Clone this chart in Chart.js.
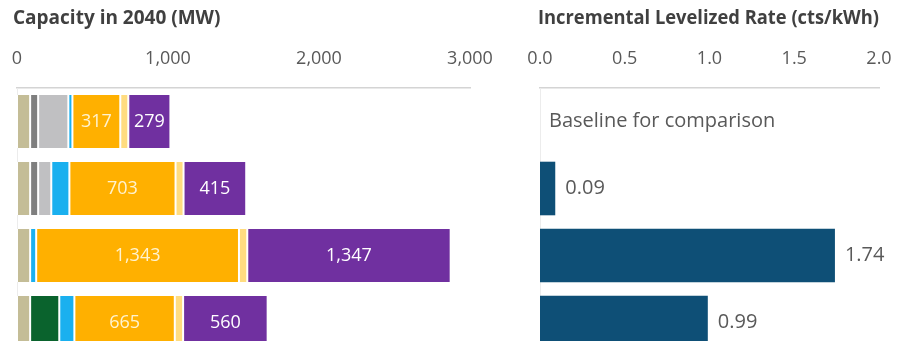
<!DOCTYPE html>
<html>
<head>
<meta charset="utf-8">
<script src="https://cdn.jsdelivr.net/npm/chart.js@4/dist/chart.umd.min.js"></script>
<style>
  body { margin: 0; background: #fff; overflow: hidden; }
  #capacityBox { position: absolute; left: 0; top: 0; width: 510px; height: 356px; }
  #rateBox { position: absolute; left: 510px; top: 0; width: 388px; height: 356px; }
</style>
</head>
<body>
<div id="capacityBox"><canvas id="capacityChart"></canvas></div>
<div id="rateBox"><canvas id="rateChart"></canvas></div>
<script>
// one row per portfolio, top to bottom
let portfolios = ['Baseline', 'Portfolio A', 'Portfolio B', 'Portfolio C'];

// capacity in 2040, MW, per resource
let existingMW = [87, 87, 87, 87];
let gasMW = [53, 53, 0, 0];
let otherMW = [200, 87, 0, 0];
let biomassMW = [0, 0, 0, 193];
let windMW = [27, 120, 40, 100];
let solarMW = [317, 703, 1343, 665];
let dgMW = [53, 53, 55, 55];
let storageMW = [279, 415, 1347, 560];

// incremental levelized rate, cts/kWh (baseline has none)
let rateValues = [null, 0.09, 1.74, 0.99];
let baselineNote = 'Baseline for comparison';

let capacityTicks = [0, 1000, 2000, 3000];
let rateTicks = [0, 0.5, 1.0, 1.5, 2.0];

Chart.defaults.font.family = '"Open Sans", sans-serif';
Chart.defaults.color = '#595959';

function stackPart(label, data, color, labelColor) {
  return {
    label: label,
    data: data,
    backgroundColor: color,
    borderColor: '#ffffff',
    borderWidth: {left: 1, right: 1, top: 0, bottom: 0},
    borderSkipped: false,
    valueLabel: labelColor
  };
};

// writes numbers inside (stacked) or after (single) bars
const barValueLabels = {
  id: 'barValueLabels',
  afterDatasetsDraw(chart) {
    let ctx = chart.ctx;
    let xScale = chart.scales.x;
    ctx.save();
    ctx.textBaseline = 'middle';
    chart.data.datasets.forEach((ds, i) => {
      if (!ds.valueLabel) return;
      let meta = chart.getDatasetMeta(i);
      meta.data.forEach((bar, j) => {
        let v = ds.data[j];
        if (ds.valueLabel == 'after') {
          ctx.fillStyle = '#595959';
          ctx.textAlign = 'left';
          ctx.font = '20px "Open Sans", sans-serif';
          if (v === null) {
            ctx.fillText(baselineNote, xScale.getPixelForValue(0) + 9, bar.y);
          } else {
            ctx.fillText(v.toFixed(2), bar.x + 10, bar.y);
          };
        } else if (v) {
          ctx.fillStyle = ds.valueLabel;
          ctx.textAlign = 'center';
          ctx.font = '18px "Open Sans", sans-serif';
          ctx.fillText(v.toLocaleString('en-US'), (bar.x + bar.base) / 2, bar.y);
        };
      });
    });
    ctx.restore();
  }
};

function titleOptions(text) {
  return {
    display: true,
    text: text,
    align: 'start',
    color: '#404040',
    font: {size: 19, weight: 'bold'},
    padding: {top: 7, bottom: 0}
  };
};

function topAxis(ticks, fmt) {
  return {
    position: 'top',
    min: ticks[0],
    max: ticks[ticks.length - 1],
    afterBuildTicks: scale => { scale.ticks = ticks.map(v => ({value: v})); },
    afterFit: scale => { scale.height = 58.2; },
    grid: {display: false, drawTicks: true, tickLength: 18},
    border: {display: true, color: '#d4d4d4', width: 1.5},
    ticks: {font: {size: 18}, color: '#595959', padding: 0, callback: fmt}
  };
};

function sideAxis(w) {
  return {
    afterFit: scale => { scale.width = w; },
    grid: {display: false, drawTicks: false},
    border: {display: true, color: '#ececec'},
    ticks: {display: false}
  };
};

new Chart(document.getElementById('capacityChart'), {
  type: 'bar',
  data: {
    labels: portfolios,
    datasets: [
      stackPart('Existing', existingMW, '#c4bd97'),
      stackPart('Gas', gasMW, '#7f7f7f'),
      stackPart('Other', otherMW, '#c0c0c2'),
      stackPart('Biomass', biomassMW, '#0a632d'),
      stackPart('Wind', windMW, '#1ab0ef'),
      stackPart('Solar', solarMW, '#ffb000', '#fff3d0'),
      stackPart('Distributed', dgMW, '#ffdc80'),
      stackPart('Storage', storageMW, '#7030a0', '#ffffff')
    ]
  },
  options: {
    indexAxis: 'y',
    responsive: true,
    maintainAspectRatio: false,
    animation: false,
    layout: {padding: {left: 13, right: 40, top: 0, bottom: 0}},
    datasets: {bar: {barPercentage: 0.79, categoryPercentage: 1}},
    scales: {
      x: Object.assign(topAxis(capacityTicks, v => v.toLocaleString('en-US')), {stacked: true}),
      y: Object.assign(sideAxis(4), {stacked: true})
    },
    plugins: {
      legend: {display: false},
      tooltip: {enabled: false},
      title: titleOptions('Capacity in 2040 (MW)')
    }
  },
  plugins: [barValueLabels]
});

new Chart(document.getElementById('rateChart'), {
  type: 'bar',
  data: {
    labels: portfolios,
    datasets: [{
      label: 'Incremental rate',
      data: rateValues,
      backgroundColor: '#0e4f76',
      valueLabel: 'after'
    }]
  },
  options: {
    indexAxis: 'y',
    responsive: true,
    maintainAspectRatio: false,
    animation: false,
    layout: {padding: {left: 28, right: 19, top: 0, bottom: 0}},
    datasets: {bar: {barPercentage: 0.8, categoryPercentage: 1}},
    scales: {
      x: topAxis(rateTicks, v => v.toFixed(1)),
      y: sideAxis(2)
    },
    plugins: {
      legend: {display: false},
      tooltip: {enabled: false},
      title: titleOptions('Incremental Levelized Rate (cts/kWh)')
    }
  },
  plugins: [barValueLabels]
});
</script>
</body>
</html>
